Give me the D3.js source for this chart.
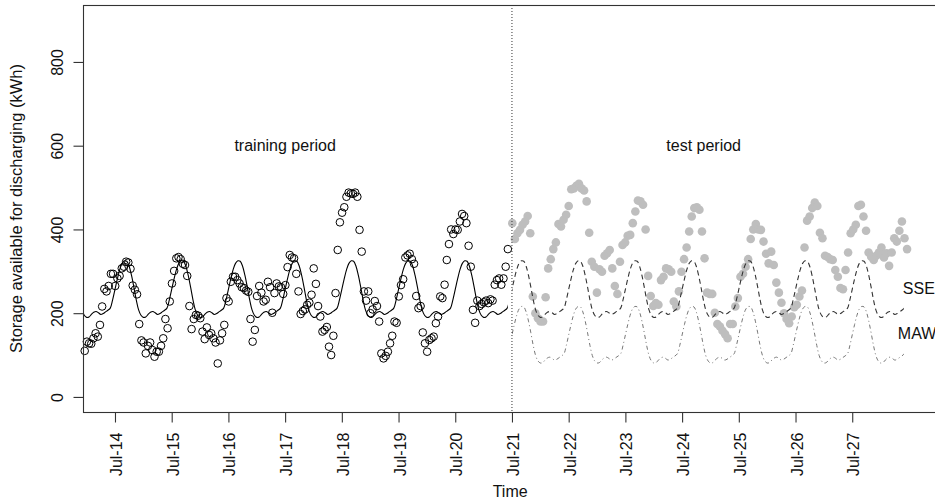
<!DOCTYPE html>
<html><head><meta charset="utf-8">
<script src="https://cdn.jsdelivr.net/npm/d3@7"></script>
<style>
html,body{margin:0;padding:0;background:#fff;}
svg{display:block;font-family:"Liberation Sans",Arial,Helvetica,sans-serif;}
</style></head><body>
<svg id="chart" width="935" height="502"></svg>
<script>
// ---- data ----
const trainValues = [110,132,128,127,140,152,144,172,216,258,
252,265,294,294,265,283,289,307,311,323,
321,306,266,256,245,174,135,130,104,122,
130,112,96,108,108,122,140,186,164,228,
271,301,331,334,329,318,315,289,217,162,
186,196,194,188,156,138,166,148,152,140,
130,80,135,152,172,236,228,275,287,287,
279,271,262,260,254,251,186,132,160,241,
265,249,228,232,275,262,201,248,271,264,
262,246,267,310,339,333,331,294,252,198,
205,209,220,225,244,307,270,217,192,156,
160,167,120,100,146,248,351,417,440,453,
478,488,486,485,488,478,399,347,252,230,
252,200,209,229,217,180,104,92,98,108,
128,146,180,177,240,267,281,333,338,342,
329,318,241,212,217,154,128,108,
136,140,144,176,192,240,236,268,327,365,
400,389,400,399,419,437,432,415,361,311,
208,177,230,217,222,226,230,224,233,230,
268,279,283,268,283,311,353];
const testValues = [415,377,391,399,411,419,432,391,240,200,
188,180,180,238,307,329,353,369,413,407,
423,435,456,496,498,504,509,498,493,467,
392,323,311,249,305,299,337,343,351,307,
265,246,323,363,369,385,387,415,443,469,
467,459,400,289,241,217,224,220,279,287,
307,305,299,228,216,252,299,329,357,395,
431,451,453,447,395,331,249,246,246,201,
174,168,158,150,140,174,174,216,236,287,
294,311,329,377,400,413,400,399,371,342,
319,347,315,273,249,225,200,186,176,192,
214,220,240,254,357,421,431,451,464,456,
392,379,337,334,329,327,303,287,260,257,
303,345,391,400,411,456,459,431,397,345,
335,327,337,345,357,333,343,313,345,379,
371,397,419,379,353];
const trainStart = 2013.966, trainStep = 1/26;   // decimal years
const testStart = 2021.506, testStep = 0.0452;
// fitted seasonal profile, 24 half-month values per calendar year
const sseCycle = [190,191,197,202,204,201,197,199,203,207,212,232,257,282,304,319,325,324,312,290,262,232,208,195];
const mawCycle = [81,82,88,93,95,92,88,90,94,98,103,123,148,173,195,210,216,215,203,181,153,123,99,86];
const curveYears = [2013,2014,2015,2016,2017,2018,2019,2020,2021,2022,2023,2024,2025,2026,2027,2028];
const yTicks = [0,200,400,600,800];
const xTickLabels = ["Jul-14","Jul-15","Jul-16","Jul-17","Jul-18","Jul-19","Jul-20","Jul-21","Jul-22","Jul-23","Jul-24","Jul-25","Jul-26","Jul-27"];
const xTickTimes = [2014.5,2015.5,2016.5,2017.5,2018.5,2019.5,2020.5,2021.5,2022.5,2023.5,2024.5,2025.5,2026.5,2027.5];
const splitTime = 2021.5, curveStartTime = 2013.936, curveEndTime = 2028.41;
const seriesLabels = ["SSE","MAW"];
const periodLabels = ["training period","test period"];

// ---- layout ----
const L = 83, T = 5, B = 412, R = 937.3;
const svg = d3.select("#chart");
const x = d3.scaleLinear().domain([2013.936, 2029.0]).range([L, R]);
const y = d3.scaleLinear().domain([-36, 936]).range([B, T]);
const FS = 16;

const defs = svg.append("defs");
const trainEnd = trainStart + (trainValues.length - 1) * trainStep;
defs.append("clipPath").attr("id","cTrain").append("rect")
  .attr("x", x(curveStartTime)).attr("y",0).attr("width", x(trainEnd) - x(curveStartTime)).attr("height",502);
defs.append("clipPath").attr("id","cTest").append("rect")
  .attr("x", x(splitTime)).attr("y",0).attr("width", x(curveEndTime) - x(splitTime)).attr("height",502);

const trainPts = trainValues.map((v,i)=>({t: trainStart + i*trainStep, v}));
const testPts = testValues.map((v,i)=>({t: testStart + i*testStep, v}));
const ssePts = curveYears.flatMap(yr => sseCycle.map((v,k)=>({t: yr + k/24, v})));
const mawPts = curveYears.flatMap(yr => mawCycle.map((v,k)=>({t: yr + k/24, v})));
const line = d3.line().x(d=>x(d.t)).y(d=>y(d.v)).curve(d3.curveCatmullRom.alpha(0.5));

// points
svg.append("g").selectAll("circle").data(trainPts).join("circle")
  .attr("cx", d=>x(d.t)).attr("cy", d=>y(d.v)).attr("r", 3.8)
  .attr("fill","none").attr("stroke","#000").attr("stroke-width",1);
svg.append("g").selectAll("circle").data(testPts).join("circle")
  .attr("cx", d=>x(d.t)).attr("cy", d=>y(d.v)).attr("r", 4.3)
  .attr("fill","#bebebe");

// curves
svg.append("path").datum(ssePts).attr("d", line).attr("clip-path","url(#cTrain)")
  .attr("fill","none").attr("stroke","#000").attr("stroke-width",1.1);
svg.append("path").datum(ssePts).attr("d", line).attr("clip-path","url(#cTest)")
  .attr("fill","none").attr("stroke","#333").attr("stroke-width",1.1).attr("stroke-dasharray","5,3.5");
svg.append("path").datum(mawPts).attr("d", line).attr("clip-path","url(#cTest)")
  .attr("fill","none").attr("stroke","#777").attr("stroke-width",1).attr("stroke-dasharray","1,3,4,3");

// split line
svg.append("line").attr("x1", x(splitTime)).attr("x2", x(splitTime)).attr("y1", T).attr("y2", B)
  .attr("stroke","#333").attr("stroke-width",1).attr("stroke-dasharray","1,2");

// box
svg.append("rect").attr("x", L+0.5).attr("y", T+0.5).attr("width", R-L).attr("height", B-T)
  .attr("fill","none").attr("stroke","#333").attr("stroke-width",1.1);

// y axis
const gy = svg.append("g").attr("transform", `translate(${L+0.5},0)`)
  .call(d3.axisLeft(y).tickValues(yTicks).tickSize(10).tickSizeOuter(0).tickFormat(d3.format("d")));
gy.select(".domain").remove();
gy.selectAll(".tick line").attr("stroke","#333").attr("stroke-width",1.1);
gy.selectAll(".tick text").attr("transform","rotate(-90)").attr("x",0).attr("y",-21).attr("dy",0)
  .attr("text-anchor","middle").attr("font-size",FS).attr("fill","#111")
  .attr("font-family","Liberation Sans, Arial, sans-serif");

// x axis
const gx = svg.append("g").attr("transform", `translate(0,${B+0.5})`)
  .call(d3.axisBottom(x).tickValues(xTickTimes).tickSize(10).tickSizeOuter(0).tickFormat((d,i)=>xTickLabels[i]));
gx.select(".domain").remove();
gx.selectAll(".tick line").attr("stroke","#333").attr("stroke-width",1.1);
gx.selectAll(".tick text").attr("transform","rotate(-90)").attr("x",-20).attr("y",6.5).attr("dy",0)
  .attr("text-anchor","end").attr("font-size",FS).attr("fill","#111")
  .attr("font-family","Liberation Sans, Arial, sans-serif");

// axis titles
svg.append("text").attr("transform",`translate(22,${(T+B)/2}) rotate(-90)`).attr("text-anchor","middle")
  .attr("font-size",16.5).attr("fill","#111").text("Storage available for discharging (kWh)");
svg.append("text").attr("x",(L+R)/2).attr("y",497).attr("text-anchor","middle")
  .attr("font-size",FS).attr("fill","#111").text("Time");

// annotations
svg.append("text").attr("x", x(2017.5)).attr("y", y(600)+5.5).attr("text-anchor","middle")
  .attr("font-size",FS).attr("fill","#111").text(periodLabels[0]);
svg.append("text").attr("x", x(2024.88)).attr("y", y(600)+5.5).attr("text-anchor","middle")
  .attr("font-size",FS).attr("fill","#111").text(periodLabels[1]);
svg.append("text").attr("x", x(curveEndTime)-1).attr("y", y(260)+6).attr("text-anchor","start")
  .attr("font-size",FS).attr("fill","#111").text(seriesLabels[0]);
svg.append("text").attr("x", x(curveEndTime)-6).attr("y", y(153)+6).attr("text-anchor","start")
  .attr("font-size",FS).attr("fill","#111").text(seriesLabels[1]);
</script>
</body></html>
